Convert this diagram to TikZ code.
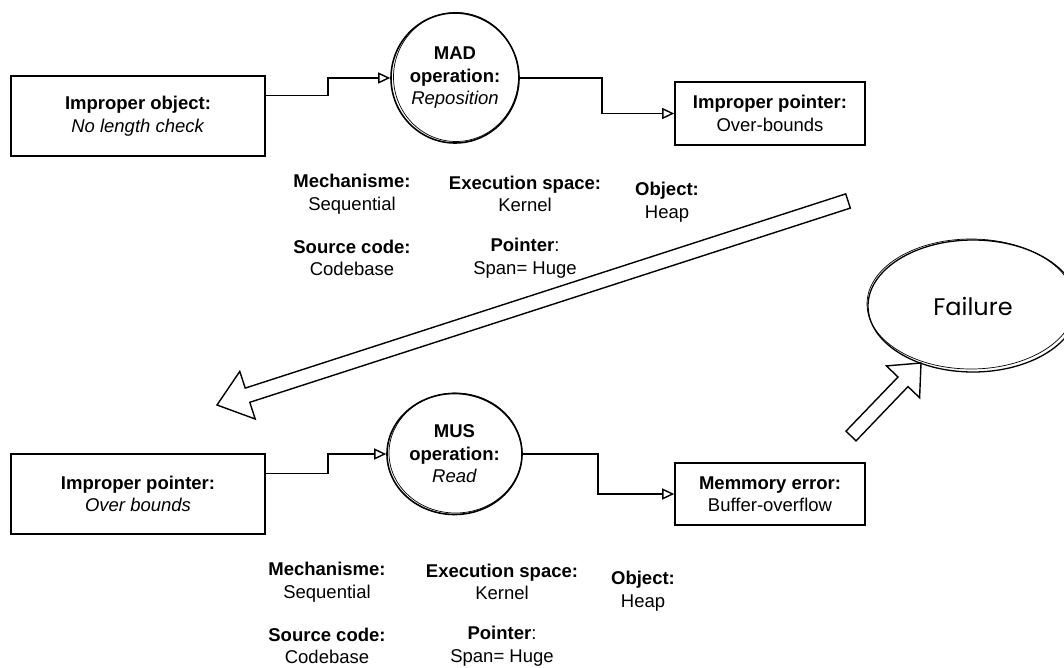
\documentclass[tikz,border=0pt]{standalone}
\usepackage{fontspec}
\setmainfont{Liberation Sans}
\newfontfamily\handfont{Poppins}
\usetikzlibrary{shapes.geometric,arrows.meta,calc}
\begin{document}
\begin{tikzpicture}[x=1pt,y=-1pt,
  every node/.style={font=\fontsize{18.5}{22.5}\selectfont, align=center, inner sep=0pt},
  stepbox/.style={draw, line width=1.6pt, rectangle},
  opnode/.style={draw, line width=1.6pt, ellipse},
  sketch/.style={line width=0.7pt},
  flow/.style={line width=1.6pt, -{Triangle[open, length=12pt, width=11pt, line width=1.4pt]}},
  hollow/.style={draw, line width=1.4pt, fill=white, line join=miter}
]
\useasboundingbox (0,0) rectangle (1064,668);

% ---------- upper chain ----------
\node[stepbox, minimum width=254pt, minimum height=80pt] (obj) at (138,116)
  {\textbf{Improper object:}\\\textit{No length check}};
\node[opnode, minimum width=128pt, minimum height=130pt] (mad) at (455,78)
  {\textbf{MAD}\\\textbf{operation:}\\\textit{Reposition}};
\draw[sketch] ($(mad.center)+(1,-1)$) ellipse [x radius=62.5, y radius=64.5];
\node[stepbox, minimum width=190pt, minimum height=63pt] (ptrA) at (770,113.5)
  {\textbf{Improper pointer:}\\Over-bounds};

\coordinate (objout) at ($(obj.north east)!0.25!(obj.south east)$);
\draw[flow] (objout) -- ++(62,0) |- (mad.west);
\draw[flow] (mad.east) -- ++(82,0) |- (ptrA.west);

% attributes of the upper step
\node (mechA) at (352,194) {\textbf{Mechanisme:}\\Sequential};
\node (execA) at (525,194) {\textbf{Execution space:}\\Kernel};
\node (objA)  at (667,202) {\textbf{Object:}\\Heap};
\node (srcA)  at (352,258) {\textbf{Source code:}\\Codebase};
\node (pntA)  at (525,258) {\textbf{Pointer}:\\Span= Huge};

% ---------- hand-over arrow between the two chains ----------
\draw[hollow] (845.7,193.9) -- (245.2,388.1) -- (239.8,371.4) -- (217,405)
  -- (255.2,419) -- (249.8,402.3) -- (850.3,208.1) -- cycle;

% ---------- lower chain ----------
\node[stepbox, minimum width=254pt, minimum height=80pt] (ptrB) at (138,494)
  {\textbf{Improper pointer:}\\\textit{Over bounds}};
\node[opnode, minimum width=135pt, minimum height=121pt] (mus) at (454.5,454)
  {\textbf{MUS}\\\textbf{operation:}\\\textit{Read}};
\draw[sketch] ($(mus.center)+(1,-1)$) ellipse [x radius=66.5, y radius=60];
\node[stepbox, minimum width=190pt, minimum height=62pt] (mem) at (770,494)
  {\textbf{Memmory error:}\\Buffer-overflow};

\coordinate (ptrBout) at ($(ptrB.north east)!0.25!(ptrB.south east)$);
\draw[flow] (ptrBout) -- ++(62,0) |- (mus.west);
\draw[flow] (mus.east) -- ++(75,0) |- (mem.west);

% attributes of the lower step
\node (mechB) at (327,582) {\textbf{Mechanisme:}\\Sequential};
\node (execB) at (502,582) {\textbf{Execution space:}\\Kernel};
\node (objB)  at (643,591) {\textbf{Object:}\\Heap};
\node (srcB)  at (327,646) {\textbf{Source code:}\\Codebase};
\node (pntB)  at (502,646) {\textbf{Pointer}:\\Span= Huge};

% ---------- failure ----------
\node[opnode, line width=1.3pt, minimum width=210pt, minimum height=132pt,
      font=\handfont\fontsize{24}{28}\selectfont] (fail) at (973,306) {Failure};
\draw[sketch] ($(fail.center)+(-2,-2)$) ellipse [x radius=104, y radius=65];
\draw[hollow] (846,431.1) -- (898,377) -- (886.4,365.9) -- (921,363)
  -- (919.6,397.7) -- (908,386.6) -- (856,440.9) -- cycle;
\end{tikzpicture}
\end{document}
